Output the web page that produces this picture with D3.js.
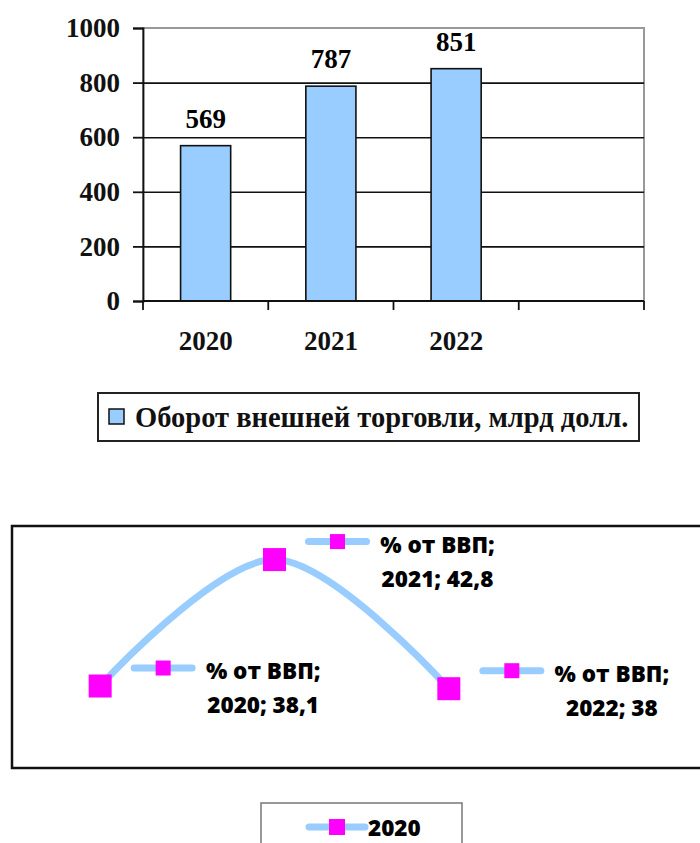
<!DOCTYPE html>
<html>
<head>
<meta charset="utf-8">
<script src="https://cdn.jsdelivr.net/npm/d3@7"></script>
<style>
  body { margin: 0; background: #fff; }
  svg { display: block; }
</style>
</head>
<body>
<div id="chart"></div>
<script>
// Top chart data
const tradeCats = ["2020", "2021", "2022", ""];
const tradeValues = [569, 787, 851];
const tradeTicks = [0, 200, 400, 600, 800, 1000];
const tradeLegend = "Оборот внешней торговли, млрд долл.";

// Bottom chart data
const gdpYears = ["2020", "2021", "2022"];
const gdpValues = [38.1, 42.8, 38];
const gdpValueText = ["38,1", "42,8", "38"];
const gdpSeries = "% от ВВП";
const gdpLegend = "2020";

const width = 700, height = 843;
const barFill = "#99ccff", lineColor = "#99ccff", markerColor = "#ff00ff";
const serif = "'Liberation Serif', 'Times New Roman', serif";
const sans = "'Open Sans', 'Noto Sans', sans-serif";

let svg = d3.select("#chart")
  .append("svg")
  .attr("width", width)
  .attr("height", height);

// ---------- top: bars ----------
let plot = { left: 143, right: 644, top: 28, bottom: 301 };

let x = d3.scaleBand()
  .domain(tradeCats)
  .range([plot.left, plot.right])
  .paddingInner(0.6)
  .paddingOuter(0.3);

let y = d3.scaleLinear()
  .domain([0, 1000])
  .range([plot.bottom, plot.top]);

let barChart = svg.append("g").attr("class", "bars");

// plot border (grey top/right)
barChart.append("rect")
  .attr("x", plot.left)
  .attr("y", plot.top)
  .attr("width", plot.right - plot.left)
  .attr("height", plot.bottom - plot.top)
  .attr("fill", "none")
  .attr("stroke", "#999")
  .attr("stroke-width", 2);

// gridlines
barChart.append("g")
  .attr("transform", `translate(${plot.left},0)`)
  .call(d3.axisLeft(y).tickValues(tradeTicks.filter(d => d > 0 && d < 1000)).tickSize(-(plot.right - plot.left)).tickFormat(""))
  .call(g => g.select(".domain").remove())
  .call(g => g.selectAll("line").attr("stroke", "#111").attr("stroke-width", 1.6));

// bars
barChart.append("g")
  .selectAll("rect")
  .data(tradeValues)
  .enter()
  .append("rect")
  .attr("x", (d, i) => x(tradeCats[i]))
  .attr("y", d => y(d))
  .attr("width", x.bandwidth())
  .attr("height", d => y(0) - y(d))
  .attr("fill", barFill)
  .attr("stroke", "#111")
  .attr("stroke-width", 1.6);

// value labels
barChart.append("g")
  .selectAll("text")
  .data(tradeValues)
  .enter()
  .append("text")
  .attr("x", (d, i) => x(tradeCats[i]) + x.bandwidth() / 2)
  .attr("y", d => y(d) - 18)
  .attr("text-anchor", "middle")
  .style("font-family", serif)
  .style("font-weight", "bold")
  .style("font-size", "27px")
  .text(d => d);

// y axis
barChart.append("g")
  .attr("transform", `translate(${plot.left},0)`)
  .call(d3.axisLeft(y).tickValues(tradeTicks).tickFormat(d3.format("d")).tickSize(10).tickPadding(13))
  .call(g => g.selectAll("line, path").attr("stroke", "#111").attr("stroke-width", 1.8))
  .call(g => g.selectAll("text")
    .style("font-family", serif)
    .style("font-weight", "bold")
    .style("font-size", "27px")
    .attr("fill", "#111"));

// x axis: ticks at category boundaries
let step = x.step();
let boundaries = d3.range(tradeCats.length + 1).map(i => plot.left + i * step);
let xAxis = barChart.append("g");
xAxis.append("line")
  .attr("x1", plot.left).attr("x2", plot.right)
  .attr("y1", plot.bottom).attr("y2", plot.bottom)
  .attr("stroke", "#111").attr("stroke-width", 1.8);
xAxis.selectAll(".tick")
  .data(boundaries)
  .enter()
  .append("line")
  .attr("x1", d => d).attr("x2", d => d)
  .attr("y1", plot.bottom).attr("y2", plot.bottom + 9)
  .attr("stroke", "#111").attr("stroke-width", 1.8);
xAxis.selectAll("text")
  .data(tradeCats.filter(d => d !== ""))
  .enter()
  .append("text")
  .attr("x", d => x(d) + x.bandwidth() / 2)
  .attr("y", 350)
  .attr("text-anchor", "middle")
  .style("font-family", serif)
  .style("font-weight", "bold")
  .style("font-size", "27px")
  .attr("fill", "#111")
  .text(d => d);

// legend
let leg = barChart.append("g");
leg.append("rect")
  .attr("x", 98).attr("y", 393)
  .attr("width", 541).attr("height", 48)
  .attr("fill", "white")
  .attr("stroke", "#222")
  .attr("stroke-width", 2);
leg.append("rect")
  .attr("x", 109).attr("y", 409)
  .attr("width", 15).attr("height", 15)
  .attr("fill", barFill)
  .attr("stroke", "#111")
  .attr("stroke-width", 1.5);
leg.append("text")
  .attr("x", 135).attr("y", 427)
  .style("font-family", serif)
  .style("font-weight", "bold")
  .style("font-size", "28.5px")
  .attr("fill", "#111")
  .text(tradeLegend);

// ---------- bottom: line ----------
let lineChart = svg.append("g").attr("class", "line");

lineChart.append("rect")
  .attr("x", 12).attr("y", 526)
  .attr("width", 700).attr("height", 242)
  .attr("fill", "white")
  .attr("stroke", "#111")
  .attr("stroke-width", 2.5);

let x2 = d3.scaleBand()
  .domain(gdpYears)
  .range([13, 536]);

let y2 = d3.scaleLinear()
  .domain([36, 44])
  .range([742.5, 527.3]);

let pts = gdpValues.map((v, i) => [x2(gdpYears[i]) + x2.bandwidth() / 2, y2(v)]);

let line = d3.line().curve(d3.curveCardinal.tension(0));

lineChart.append("path")
  .attr("d", line(pts))
  .attr("fill", "none")
  .attr("stroke", lineColor)
  .attr("stroke-width", 7)
  .attr("stroke-linecap", "round");

let markerSize = 23;
lineChart.append("g")
  .selectAll("rect")
  .data(pts)
  .enter()
  .append("rect")
  .attr("x", d => d[0] - markerSize / 2)
  .attr("y", d => d[1] - markerSize / 2)
  .attr("width", markerSize)
  .attr("height", markerSize)
  .attr("fill", markerColor);

// legend key used in labels and legend
function legendKey(g, cx, cy, len, size) {
  g.append("line")
    .attr("x1", cx - len / 2).attr("x2", cx + len / 2)
    .attr("y1", cy).attr("y2", cy)
    .attr("stroke", lineColor)
    .attr("stroke-width", 7)
    .attr("stroke-linecap", "round");
  g.append("rect")
    .attr("x", cx - size / 2).attr("y", cy - size / 2)
    .attr("width", size).attr("height", size)
    .attr("fill", markerColor);
}

// data labels
pts.forEach((p, i) => {
  let g = lineChart.append("g");
  legendKey(g, p[0] + 63, p[1] - 18, 58, 15);
  let t = g.append("text")
    .attr("text-anchor", "middle")
    .style("font-family", sans)
    .style("font-weight", "800")
    .style("font-size", "22.5px")
    .attr("fill", "#000");
  t.append("tspan")
    .attr("x", p[0] + 163).attr("y", p[1] - 7)
    .text(gdpSeries + ";");
  t.append("tspan")
    .attr("x", p[0] + 163).attr("y", p[1] + 27)
    .text(gdpYears[i] + "; " + gdpValueText[i]);
});

// bottom legend
let leg2 = lineChart.append("g");
leg2.append("rect")
  .attr("x", 261).attr("y", 803)
  .attr("width", 201).attr("height", 60)
  .attr("fill", "white")
  .attr("stroke", "#777")
  .attr("stroke-width", 1.5);
legendKey(leg2, 337, 827, 56, 16);
leg2.append("text")
  .attr("x", 368).attr("y", 836)
  .style("font-family", sans)
  .style("font-weight", "800")
  .style("font-size", "22.5px")
  .attr("fill", "#000")
  .text(gdpLegend);
</script>
</body>
</html>
